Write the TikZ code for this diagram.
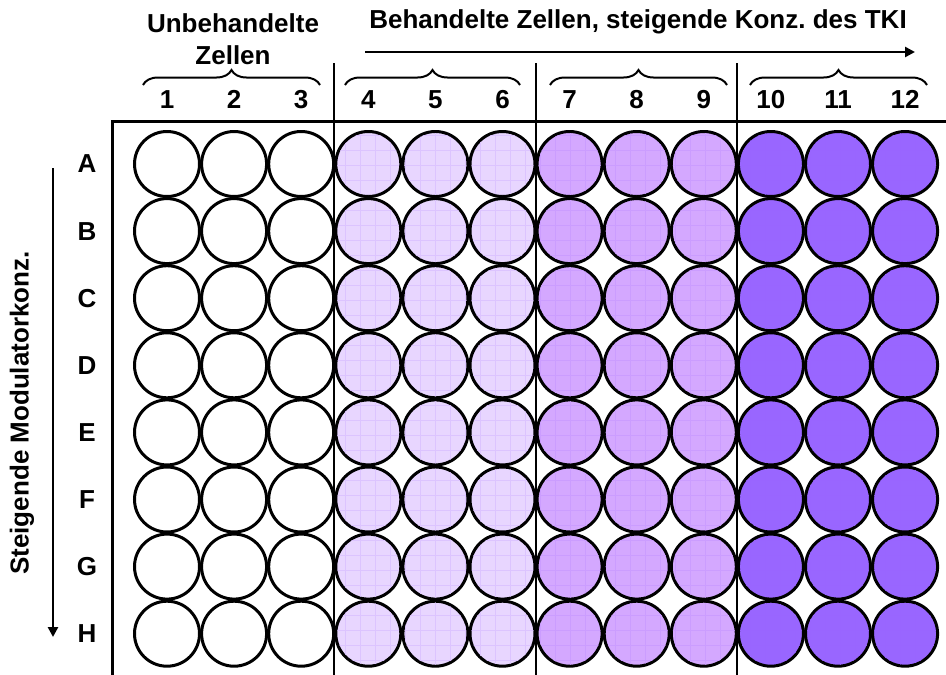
\documentclass[tikz,border=0pt]{standalone}
\usepackage{fontspec}
\setmainfont{Liberation Sans}
\usetikzlibrary{positioning, arrows.meta, decorations.pathreplacing, calc}

\definecolor{lowdose}{HTML}{E8D6FF}
\definecolor{middose}{HTML}{D4A8FF}
\definecolor{highdose}{HTML}{9966FF}
\definecolor{gridtint}{HTML}{9A5CFF}

\begin{document}
\begin{tikzpicture}[
	x=1pt, y=-1pt,
	% --- Styles ---
	well/.style={
		circle, draw, line width=3pt, minimum size=65pt, inner sep=0pt
	},
	lbl/.style={
		font=\fontsize{26}{32}\selectfont\bfseries, inner sep=0pt, align=center
	},
	plate/.style={
		draw, line width=3pt
	},
	divider/.style={
		draw, line width=2.5pt
	},
	line/.style={
		draw, line width=2.8pt, -{Triangle[length=10pt, width=10pt]}
	},
	curly/.style={
		draw, line width=2pt, decorate, decoration={brace, amplitude=15pt}
	},
	texture/.style={
		draw, line width=0.7pt, step=15pt
	}
	]
	\useasboundingbox (0,0) rectangle (946,675);
	
	% --- 1. Plate outline ---
	\draw [plate] (946,121) -- (112,121) -- (112,675);
	
	% --- 2. Wells (groups of three columns) ---
	\foreach \first/\fillc in {1/white, 4/lowdose, 7/middose, 10/highdose} {
		\foreach \k in {0,1,2} {
			\pgfmathtruncatemacro\c{\first+\k}
			\foreach \r [count=\i from 0] in {A,...,H} {
				\node [well, fill=\fillc] (\r\c) at ({167+(\c-1)*67.1}, {164+\i*67.1}) {};
				% faint grid texture inside the treated wells
				\ifnum\first>1
				\begin{scope}
					\clip (\r\c.center) circle (31pt);
					\draw [texture, color=\fillc!85!gridtint] ($(\r\c.center)+(-33,-33)$) grid ($(\r\c.center)+(33,33)$);
				\end{scope}
				\fi
			}
		}
	}
	
	% --- 3. Group dividers ---
	\foreach \x in {334, 536, 737}
	\draw [divider] (\x,63) -- (\x,675);
	
	% --- 4. Column numbers and row letters ---
	\foreach \c in {1,...,12}
	\node [lbl, above=21pt of A\c] (col\c) {\c};
	
	\foreach \r [count=\i from 0] in {A,...,H}
	\node [lbl] (row\r) at (87, {164+\i*67.1}) {\r};
	
	% --- 5. Braces over the column groups ---
	\foreach \l/\r in {143/320, 345/520, 550/727, 750/927}
	\draw [curly] (\l,85) -- (\r,85);
	
	% --- 6. Headings and arrows ---
	\node [lbl] (untreated) at (233,39) {Unbehandelte\\Zellen};
	\node [lbl] (treated) at (638,22) {Behandelte Zellen, steigende Konz.\ des TKI};
	
	\coordinate (dose_start) at (365,52);
	\coordinate (dose_end) at (915,52);
	\draw [line] (dose_start) -- (dose_end);
	
	\node [lbl, rotate=90] (modulator) at (22,413) {Steigende Modulatorkonz.};
	
	\coordinate (mod_start) at (53,168);
	\coordinate (mod_end) at (53,637);
	\draw [line] (mod_start) -- (mod_end);
	
\end{tikzpicture}
\end{document}
